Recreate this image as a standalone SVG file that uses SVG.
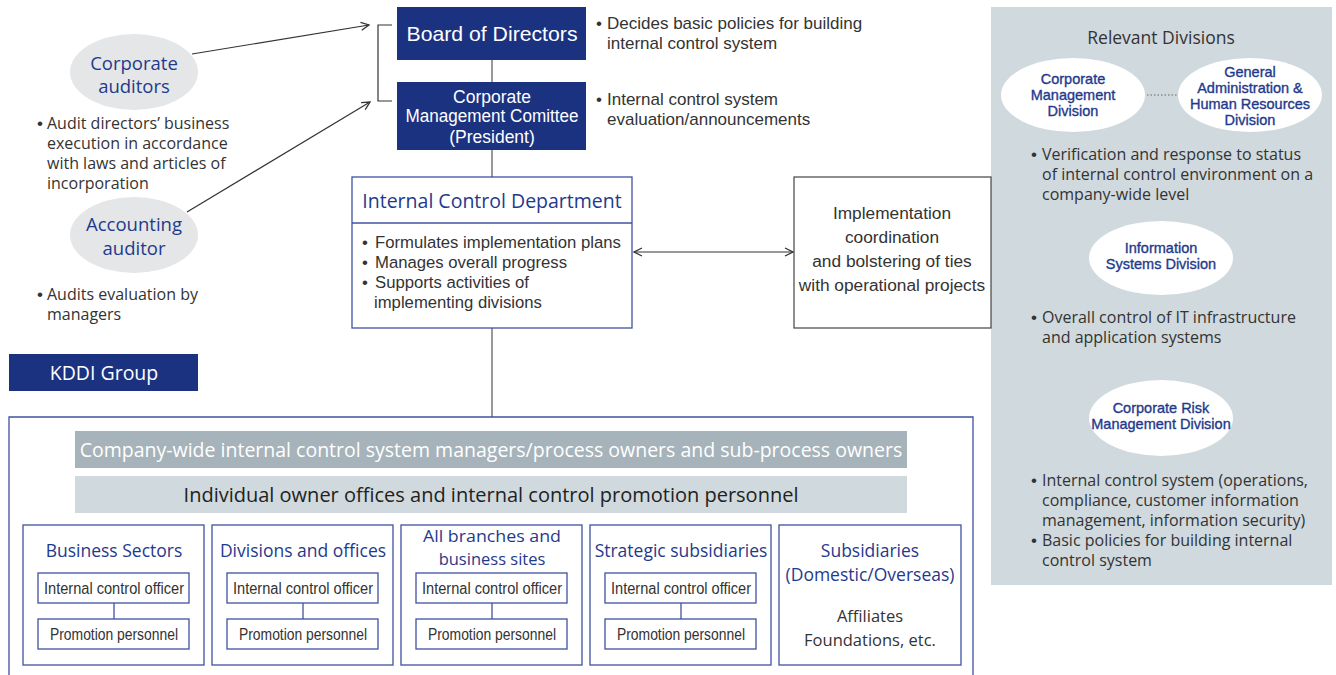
<svg xmlns="http://www.w3.org/2000/svg" width="1336" height="675" viewBox="0 0 1336 675">
<defs>
<marker id="arr" viewBox="0 0 10 10" refX="9" refY="5" markerWidth="10" markerHeight="10" markerUnits="userSpaceOnUse" orient="auto-start-reverse">
<path d="M1,1 L9,5 L1,9" fill="none" stroke="#333" stroke-width="1.3"/>
</marker>
<style>
.wide{font-family:"Open Sans","Noto Sans","Liberation Sans",sans-serif}
.cond{font-family:"Liberation Sans",Arial,sans-serif}
.bul{font-family:"Liberation Sans",Arial,sans-serif}
.navyfill{fill:#1b3281}
.navy{fill:#1f3a8c}
.dark{fill:#333}
.white{fill:#fff}
.bline{fill:#fff;stroke:#3f52a0;stroke-width:1.3}
.conn{stroke:#555;stroke-width:1.2;fill:none}
.ell{fill:#fff}
.gell{fill:#e5e6e7}
.elab{font-family:"Liberation Sans",Arial,sans-serif;fill:#1f3a8c;stroke:#1f3a8c;stroke-width:0.35;font-size:14.5px;text-anchor:middle}
</style>
</defs>
<rect width="1336" height="675" fill="#fff"/>

<!-- right panel -->
<g id="relevant-divisions">
<rect x="991" y="7" width="341" height="578" fill="#d0d9dd"/>
<text class="wide dark" x="1161" y="44" font-size="17.5" text-anchor="middle">Relevant Divisions</text>
<line x1="1147" y1="95" x2="1178" y2="95" stroke="#666" stroke-width="1.2" stroke-dasharray="1.5,2"/>
</g>
<g id="corp-mgmt-div">
<ellipse class="ell" cx="1073" cy="95" rx="72" ry="37"/>
<text class="elab"><tspan x="1073" y="84">Corporate</tspan><tspan x="1073" y="100">Management</tspan><tspan x="1073" y="116">Division</tspan></text>
</g>
<g id="ga-hr-div">
<ellipse class="ell" cx="1250" cy="95" rx="72" ry="37"/>
<text class="elab"><tspan x="1250" y="77">General</tspan><tspan x="1250" y="93">Administration &amp;</tspan><tspan x="1250" y="109">Human Resources</tspan><tspan x="1250" y="125">Division</tspan></text>
</g>
<g id="verification-text">
<text class="wide dark" font-size="16"><tspan class="bul" x="1031" y="160" font-size="17">•</tspan><tspan x="1042" y="160">Verification and response to status</tspan><tspan x="1042" y="180">of internal control environment on a</tspan><tspan x="1042" y="200">company-wide level</tspan></text>
</g>
<g id="info-sys-div">
<ellipse class="ell" cx="1161" cy="258" rx="72" ry="37"/>
<text class="elab"><tspan x="1161" y="253">Information</tspan><tspan x="1161" y="269">Systems Division</tspan></text>
</g>
<g id="it-text">
<text class="wide dark" font-size="16"><tspan class="bul" x="1031" y="323" font-size="17">•</tspan><tspan x="1042" y="323">Overall control of IT infrastructure</tspan><tspan x="1042" y="343">and application systems</tspan></text>
</g>
<g id="risk-div">
<ellipse class="ell" cx="1161" cy="418" rx="72" ry="38"/>
<text class="elab"><tspan x="1161" y="413">Corporate Risk</tspan><tspan x="1161" y="429">Management Division</tspan></text>
</g>
<g id="risk-text">
<text class="wide dark" font-size="16"><tspan class="bul" x="1031" y="486" font-size="17">•</tspan><tspan x="1042" y="486">Internal control system (operations,</tspan><tspan x="1042" y="506">compliance, customer information</tspan><tspan x="1042" y="526">management, information security)</tspan><tspan class="bul" x="1031" y="546" font-size="17">•</tspan><tspan x="1042" y="546">Basic policies for building internal</tspan><tspan x="1042" y="566">control system</tspan></text>
</g>

<!-- connectors -->
<g id="connectors">
<line class="conn" x1="492" y1="60" x2="492" y2="82"/>
<line class="conn" x1="492" y1="150" x2="492" y2="177"/>
<line class="conn" x1="492" y1="328" x2="492" y2="417"/>
<path d="M392,25 H378 V101 H392" fill="none" stroke="#333" stroke-width="1.2"/>
<line x1="192" y1="54" x2="369" y2="25" stroke="#333" stroke-width="1.2" marker-end="url(#arr)"/>
<line x1="187" y1="212" x2="370" y2="102" stroke="#333" stroke-width="1.2" marker-end="url(#arr)"/>
<line x1="634" y1="252" x2="793" y2="252" stroke="#333" stroke-width="1.2" marker-start="url(#arr)" marker-end="url(#arr)"/>
</g>

<!-- left -->
<g id="corporate-auditors">
<ellipse class="gell" cx="134" cy="72" rx="64" ry="38"/>
<text class="wide navy" font-size="18.5" text-anchor="middle"><tspan x="134" y="70">Corporate</tspan><tspan x="134" y="93">auditors</tspan></text>
</g>
<g id="corporate-auditors-text">
<text class="wide dark" font-size="16"><tspan class="bul" x="37" y="129" font-size="17">•</tspan><tspan x="47" y="129">Audit directors’ business</tspan><tspan x="47" y="149">execution in accordance</tspan><tspan x="47" y="169">with laws and articles of</tspan><tspan x="47" y="189">incorporation</tspan></text>
</g>
<g id="accounting-auditor">
<ellipse class="gell" cx="134" cy="235" rx="64" ry="38"/>
<text class="wide navy" font-size="18.5" text-anchor="middle"><tspan x="134" y="231">Accounting</tspan><tspan x="134" y="255">auditor</tspan></text>
</g>
<g id="accounting-auditor-text">
<text class="wide dark" font-size="16"><tspan class="bul" x="37" y="300" font-size="17">•</tspan><tspan x="47" y="300">Audits evaluation by</tspan><tspan x="47" y="320">managers</tspan></text>
</g>

<!-- center top -->
<g id="board">
<rect class="navyfill" x="397" y="7" width="189" height="53"/>
<text class="cond white" x="492" y="41" font-size="21" text-anchor="middle" textLength="171" lengthAdjust="spacingAndGlyphs">Board of Directors</text>
</g>
<g id="board-text">
<text class="cond dark" font-size="17"><tspan x="596" y="29">•</tspan><tspan x="607" y="29">Decides basic policies for building</tspan><tspan x="607" y="49">internal control system</tspan></text>
</g>
<g id="cmc">
<rect class="navyfill" x="397" y="82" width="189" height="68"/>
<text class="cond white" font-size="17.5" text-anchor="middle"><tspan x="492" y="103">Corporate</tspan><tspan x="492" y="122" textLength="173" lengthAdjust="spacingAndGlyphs">Management Comittee</tspan><tspan x="492" y="143">(President)</tspan></text>
</g>
<g id="cmc-text">
<text class="cond dark" font-size="17"><tspan x="596" y="105">•</tspan><tspan x="607" y="105">Internal control system</tspan><tspan x="607" y="125">evaluation/announcements</tspan></text>
</g>
<g id="icd">
<rect class="bline" x="352" y="177" width="280" height="151"/>
<line x1="352" y1="223" x2="632" y2="223" stroke="#3f52a0" stroke-width="1.3"/>
<text class="wide navy" x="492" y="208" font-size="19.5" text-anchor="middle">Internal Control Department</text>
<text class="cond dark" font-size="16.7"><tspan x="362" y="248">•</tspan><tspan x="375" y="248">Formulates implementation plans</tspan><tspan x="362" y="268">•</tspan><tspan x="375" y="268">Manages overall progress</tspan><tspan x="362" y="288">•</tspan><tspan x="375" y="288">Supports activities of</tspan><tspan x="374" y="308">implementing divisions</tspan></text>
</g>
<g id="coordination">
<rect x="794" y="177" width="197" height="151" fill="#fff" stroke="#444" stroke-width="1.2"/>
<text class="cond dark" font-size="17.3" text-anchor="middle"><tspan x="892" y="219">Implementation</tspan><tspan x="892" y="243">coordination</tspan><tspan x="892" y="267">and bolstering of ties</tspan><tspan x="892" y="291">with operational projects</tspan></text>
</g>

<!-- bottom -->
<g id="kddi-group-label">
<rect class="navyfill" x="9" y="354" width="189" height="37"/>
<text class="wide white" x="104" y="380" font-size="19.5" text-anchor="middle">KDDI Group</text>
</g>
<g id="kddi-group">
<path d="M9,680 V417 H973 V680" fill="none" stroke="#3f52a0" stroke-width="1.3"/>
<rect x="75" y="431" width="832" height="37" fill="#a6b3ba"/>
<text class="wide white" x="491" y="457" font-size="19.5" text-anchor="middle">Company-wide internal control system managers/process owners and sub-process owners</text>
<rect x="75" y="476" width="832" height="37" fill="#d0d9dd"/>
<text class="wide" fill="#222" x="491" y="502" font-size="20" text-anchor="middle">Individual owner offices and internal control promotion personnel</text>
</g>
<g id="business-sectors">
<rect class="bline" x="23" y="525" width="181" height="140"/>
<text class="wide navy" x="114" y="557" font-size="17.5" text-anchor="middle">Business Sectors</text>
<rect class="bline" x="38" y="573" width="151" height="30"/>
<text class="cond dark" x="114" y="594" font-size="16" text-anchor="middle" textLength="140" lengthAdjust="spacingAndGlyphs">Internal control officer</text>
<line x1="114" y1="603" x2="114" y2="619" stroke="#3f52a0" stroke-width="1.3"/>
<rect class="bline" x="38" y="619" width="151" height="30"/>
<text class="cond dark" x="114" y="640" font-size="16" text-anchor="middle" textLength="128" lengthAdjust="spacingAndGlyphs">Promotion personnel</text>
</g>
<g id="divisions-offices">
<rect class="bline" x="212" y="525" width="181" height="140"/>
<text class="wide navy" x="303" y="557" font-size="17.5" text-anchor="middle">Divisions and offices</text>
<rect class="bline" x="227" y="573" width="151" height="30"/>
<text class="cond dark" x="303" y="594" font-size="16" text-anchor="middle" textLength="140" lengthAdjust="spacingAndGlyphs">Internal control officer</text>
<line x1="303" y1="603" x2="303" y2="619" stroke="#3f52a0" stroke-width="1.3"/>
<rect class="bline" x="227" y="619" width="151" height="30"/>
<text class="cond dark" x="303" y="640" font-size="16" text-anchor="middle" textLength="128" lengthAdjust="spacingAndGlyphs">Promotion personnel</text>
</g>
<g id="branches">
<rect class="bline" x="401" y="525" width="181" height="140"/>
<text class="wide navy" font-size="16.5" text-anchor="middle"><tspan x="492" y="542" textLength="138" lengthAdjust="spacingAndGlyphs">All branches and</tspan><tspan x="492" y="565">business sites</tspan></text>
<rect class="bline" x="416" y="573" width="151" height="30"/>
<text class="cond dark" x="492" y="594" font-size="16" text-anchor="middle" textLength="140" lengthAdjust="spacingAndGlyphs">Internal control officer</text>
<line x1="492" y1="603" x2="492" y2="619" stroke="#3f52a0" stroke-width="1.3"/>
<rect class="bline" x="416" y="619" width="151" height="30"/>
<text class="cond dark" x="492" y="640" font-size="16" text-anchor="middle" textLength="128" lengthAdjust="spacingAndGlyphs">Promotion personnel</text>
</g>
<g id="strategic-subsidiaries">
<rect class="bline" x="590" y="525" width="181" height="140"/>
<text class="wide navy" x="681" y="557" font-size="17.5" text-anchor="middle">Strategic subsidiaries</text>
<rect class="bline" x="605" y="573" width="151" height="30"/>
<text class="cond dark" x="681" y="594" font-size="16" text-anchor="middle" textLength="140" lengthAdjust="spacingAndGlyphs">Internal control officer</text>
<line x1="681" y1="603" x2="681" y2="619" stroke="#3f52a0" stroke-width="1.3"/>
<rect class="bline" x="605" y="619" width="151" height="30"/>
<text class="cond dark" x="681" y="640" font-size="16" text-anchor="middle" textLength="128" lengthAdjust="spacingAndGlyphs">Promotion personnel</text>
</g>
<g id="subsidiaries">
<rect class="bline" x="779" y="525" width="182" height="140"/>
<text class="wide navy" font-size="17.5" text-anchor="middle"><tspan x="870" y="557">Subsidiaries</tspan><tspan x="870" y="581">(Domestic/Overseas)</tspan></text>
<text class="wide dark" font-size="16.5" text-anchor="middle"><tspan x="870" y="622">Affiliates</tspan><tspan x="870" y="646">Foundations, etc.</tspan></text>
</g>
</svg>
